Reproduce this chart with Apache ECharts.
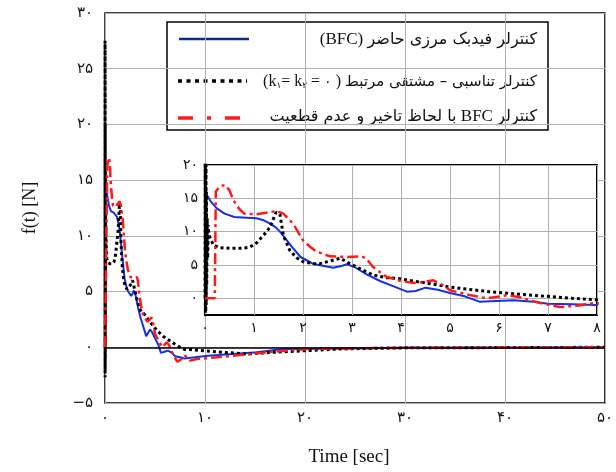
<!DOCTYPE html>
<html>
<head>
<meta charset="utf-8">
<script src="https://cdn.jsdelivr.net/npm/echarts@6/dist/echarts.min.js"></script>
<style>
  html, body { margin: 0; padding: 0; background: #fff; }
  #chart { width: 616px; height: 472px; }
</style>
</head>
<body>
<div id="chart"></div>
<script>
// Control force f(t) over time for three controllers

// BFC controller (solid blue)
const bfcTime  = [0, 0.12, 0.24, 0.4, 0.6, 0.85, 1.05, 1.2, 1.33, 1.45, 1.53, 1.67, 1.8, 1.95, 2.2, 2.4, 2.62, 2.8, 2.9, 3.05, 3.3, 3.57, 3.85, 4.12, 4.3, 4.5, 4.75, 5.0, 5.3, 5.6, 5.95, 6.3, 6.7, 7.0, 7.5, 7.96, 9, 10.3, 12.8, 15.2, 17.8, 23.5, 30, 50];
const bfcForce = [16.0, 14.5, 13.5, 12.7, 12.2, 12.1, 12.0, 11.7, 11.2, 10.6, 10.0, 8.7, 7.5, 6.2, 5.2, 4.9, 4.6, 4.9, 5.1, 4.7, 3.6, 2.6, 1.8, 1.0, 1.1, 1.6, 1.3, 0.8, 0.3, -0.5, -0.4, -0.3, -0.5, -0.8, -0.9, -1.0, -0.9, -0.75, -0.6, -0.45, -0.15, -0.1, -0.05, 0];

// PD controller (black dotted)
const pdTime  = [0, 0.004, 0.008, 0.012, 0.016, 0.02, 0.025, 0.03, 0.035, 0.045, 0.055, 0.065, 0.08, 0.1, 0.17, 0.3, 0.51, 0.75, 0.92, 1.05, 1.2, 1.33, 1.4, 1.45, 1.53, 1.6, 1.73, 1.87, 2.0, 2.2, 2.35, 2.55, 2.76, 2.96, 3.2, 3.43, 3.7, 3.91, 4.25, 4.59, 4.9, 5.27, 5.8, 6.29, 6.97, 7.5, 7.96, 8.5, 11.8, 14.2, 16.8, 20.2, 23.5, 30, 50];
const pdForce = [0, 27.5, -2.7, 24, -2, 20, -1, 16, 2, 12, 6, 11, 9.5, 9.8, 8.0, 7.6, 7.5, 7.5, 7.7, 8.3, 9.5, 10.7, 12.0, 12.9, 12.6, 9.4, 7.2, 6.1, 5.5, 5.2, 5.2, 5.6, 6.0, 5.2, 4.3, 3.5, 3.1, 3.0, 2.6, 2.2, 1.8, 1.45, 1.0, 0.7, 0.3, 0.0, -0.2, -0.2, -0.45, -0.6, -0.45, -0.3, -0.15, -0.05, 0];

// BFC with delay and uncertainty (red dash-dot)
const delayTime  = [0, 0.2, 0.22, 0.3, 0.41, 0.5, 0.58, 0.7, 0.8, 1.05, 1.3, 1.46, 1.6, 1.8, 2.0, 2.15, 2.28, 2.55, 2.89, 3.2, 3.3, 3.43, 3.71, 4.0, 4.25, 4.5, 4.66, 4.85, 5.0, 5.4, 5.75, 6.16, 6.4, 6.63, 6.9, 7.24, 7.6, 7.96, 8.5, 9.2, 11.2, 13.5, 16.8, 20.2, 23.5, 30, 50];
const delayForce = [0, 0, 16.0, 16.8, 17.0, 16.2, 14.7, 13.4, 12.7, 12.6, 12.9, 13.1, 12.7, 11.2, 8.7, 7.7, 7.0, 6.3, 6.2, 6.3, 5.9, 4.7, 3.2, 2.6, 2.3, 2.5, 2.7, 2.0, 1.2, 0.5, 0.0, 0.45, 0.2, -0.3, -0.8, -1.3, -1.1, -0.7, -1.2, -1.05, -0.9, -0.7, -0.4, -0.15, -0.1, -0.05, 0];

// Axis tick values
const mainXTicks  = [0, 10, 20, 30, 40, 50];
const mainYTicks  = [-5, 0, 5, 10, 15, 20, 25, 30];
const insetXTicks = [0, 1, 2, 3, 4, 5, 6, 7, 8];
const insetYTicks = [0, 5, 10, 15, 20];

// Series and axis titles
const seriesNames = ['کنترلر فیدبک مرزی حاضر (BFC)', 'کنترلر تناسبی – مشتقی مرتبط', 'کنترلر BFC با لحاظ تاخیر و عدم قطعیت'];
const xTitle = 'Time [sec]';
const yTitle = 'f(t) [N]';

const FA_DIGITS = '۰۱۲۳۴۵۶۷۸۹';
function toFa(v) {
  const s = String(Math.abs(v)).replace(/\d/g, d => FA_DIGITS[d]);
  return v < 0 ? '−' + s : s;
}
function zip(t, v) { return t.map((x, i) => [x, v[i]]); }

const BLUE = '#1430e0';
const RED = '#ff1a1a';
const BLACK = '#000';
const digitFont = 'DejaVu Sans';

const styles = [
  { color: BLUE, lineStyle: { color: BLUE, width: 2, type: 'solid' } },
  { color: BLACK, lineStyle: { color: BLACK, width: 3, type: [3, 3], cap: 'butt' } },
  { color: RED, lineStyle: { color: RED, width: 2.5, type: [11, 4, 3, 4], cap: 'butt' } }
];
const datasets = [zip(bfcTime, bfcForce), zip(pdTime, pdForce), zip(delayTime, delayForce)];

const series = [];
datasets.forEach((d, i) => {
  series.push(Object.assign({
    name: seriesNames[i], type: 'line', xAxisIndex: 0, yAxisIndex: 0,
    data: d, showSymbol: false, z: 2, animation: false
  }, styles[i]));
});
datasets.forEach((d, i) => {
  series.push(Object.assign({
    name: seriesNames[i] + ' ', type: 'line', xAxisIndex: 1, yAxisIndex: 1,
    data: d, showSymbol: false, z: 8, animation: false
  }, styles[i]));
});
// zero reference line in the main plot
series[0].markLine = {
  silent: true, symbol: ['none', 'none'], animation: false,
  label: { show: false },
  lineStyle: { color: '#000', type: 'solid', width: 1.5 },
  data: [{ yAxis: 0 }]
};

const gridLine = { show: true, lineStyle: { color: '#b0b0b0', width: 1 } };

const option = {
  backgroundColor: '#fff',
  animation: false,
  grid: [
    { left: 105, right: 11, top: 13, bottom: 66, show: true, borderColor: '#000', borderWidth: 1.5, backgroundColor: 'transparent', z: 0 },
    { left: 205, right: 19, top: 165, bottom: 157, show: true, borderColor: '#000', borderWidth: 2, backgroundColor: '#fff', z: 5 }
  ],
  xAxis: [
    {
      type: 'value', gridIndex: 0, min: 0, max: 50, interval: 10,
      axisLine: { show: false }, axisTick: { show: false }, splitLine: gridLine,
      axisLabel: { formatter: v => toFa(v), fontFamily: digitFont, fontSize: 15, color: '#111', margin: 8 },
      name: xTitle, nameLocation: 'middle', nameGap: 45,
      nameTextStyle: { fontFamily: 'Liberation Serif', fontSize: 19, color: '#111', padding: [0, 12, 0, 0] }
    },
    {
      type: 'value', gridIndex: 1, min: 0, max: 8, interval: 1, z: 6,
      axisLine: { show: false }, axisTick: { show: false }, splitLine: gridLine,
      axisLabel: { formatter: v => toFa(v), fontFamily: digitFont, fontSize: 14, color: '#111', margin: 6 }
    }
  ],
  yAxis: [
    {
      type: 'value', gridIndex: 0, min: -5, max: 30, interval: 5,
      axisLine: { show: false }, axisTick: { show: false }, splitLine: gridLine,
      axisLabel: { formatter: v => toFa(v), fontFamily: digitFont, fontSize: 15, color: '#111', margin: 12 },
      name: yTitle, nameLocation: 'middle', nameGap: 66, nameRotate: 90,
      nameTextStyle: { fontFamily: 'Liberation Serif', fontSize: 18, color: '#111' }
    },
    {
      type: 'value', gridIndex: 1, min: -2.5, max: 20, z: 6,
      axisLine: { show: false },
      axisTick: { show: false, customValues: insetYTicks },
      splitLine: gridLine,
      axisLabel: { customValues: insetYTicks, formatter: v => toFa(v), fontFamily: digitFont, fontSize: 14, color: '#111', margin: 7 }
    }
  ],
  graphic: [
    {
      type: 'group', z: 20,
      children: [
        { type: 'rect', shape: { x: 167, y: 22, width: 381, height: 108 }, style: { fill: '#fff', stroke: '#000', lineWidth: 1.5 } },
        { type: 'line', shape: { x1: 179, y1: 39, x2: 249, y2: 39 }, style: { stroke: '#0e2a8c', lineWidth: 2.5 } },
        { type: 'line', shape: { x1: 178, y1: 81, x2: 247, y2: 81 }, style: { stroke: '#000', lineWidth: 3.5, lineDash: [4, 4.5] } },
        { type: 'line', shape: { x1: 178, y1: 118, x2: 247, y2: 118 }, style: { stroke: RED, lineWidth: 3.5, lineDash: [15, 14, 4, 14] } },
        {
          type: 'text',
          style: {
            x: 537, y: 40, align: 'right', verticalAlign: 'middle',
            text: '{l|(BFC) }{a|کنترلر فیدبک مرزی حاضر}',
            rich: {
              l: { fontFamily: 'Liberation Serif', fontSize: 17, fill: '#111' },
              a: { fontFamily: 'DejaVu Sans', fontSize: 16, fill: '#111' }
            }
          }
        },
        {
          type: 'text',
          style: {
            x: 537, y: 82, align: 'right', verticalAlign: 'middle',
            text: '{l|(k}{s|۱}{l|= k}{s|۲}{l| = }{d|۰}{l| ) }{a|کنترلر تناسبی – مشتقی مرتبط}',
            rich: {
              l: { fontFamily: 'Liberation Serif', fontSize: 16, fill: '#111' },
              d: { fontFamily: 'DejaVu Sans', fontSize: 14, fill: '#111' },
              s: { fontFamily: 'DejaVu Sans', fontSize: 9, fill: '#111', padding: [8, 0, 0, 0] },
              a: { fontFamily: 'DejaVu Sans', fontSize: 15, fill: '#111' }
            }
          }
        },
        {
          type: 'text',
          style: {
            x: 537, y: 117, align: 'right', verticalAlign: 'middle',
            text: '{a|با لحاظ تاخیر و عدم قطعیت}{l| BFC }{a|کنترلر}',
            rich: {
              l: { fontFamily: 'Liberation Serif', fontSize: 17, fill: '#111' },
              a: { fontFamily: 'DejaVu Sans', fontSize: 16, fill: '#111' }
            }
          }
        }
      ]
    }
  ],
  series: series
};

const chart = echarts.init(document.getElementById('chart'), null, { renderer: 'canvas' });
chart.setOption(option);
</script>
</body>
</html>
